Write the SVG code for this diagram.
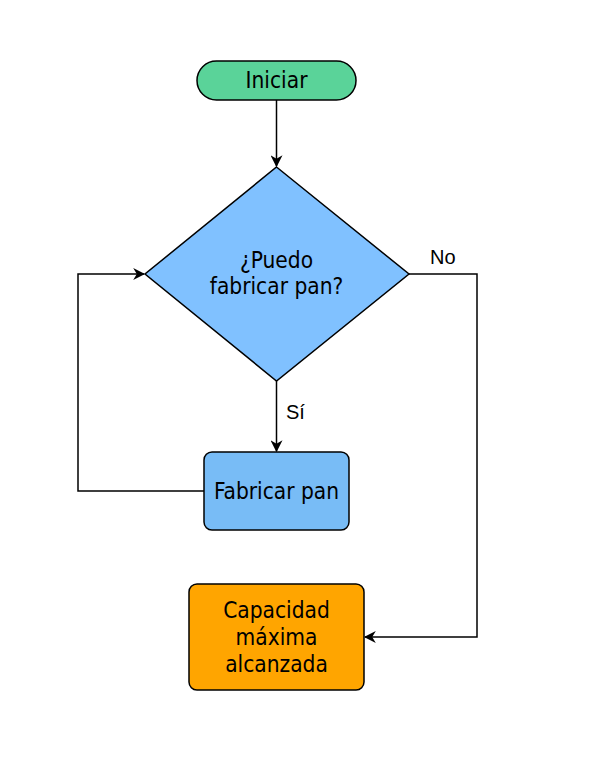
<svg xmlns="http://www.w3.org/2000/svg" width="595" height="776" viewBox="0 0 595 776">
<defs>
<marker id="arr" viewBox="0 0 10 10" refX="9" refY="5" markerWidth="12" markerHeight="12" markerUnits="userSpaceOnUse" orient="auto">
<path d="M0,0 L10,5 L0,10 L3,5 Z" fill="#000"/>
</marker>
<style>
.n{stroke:#000;stroke-width:1.5}
.t{font-family:"DejaVu Sans Condensed","DejaVu Sans",sans-serif;font-size:22.5px;fill:#000;text-anchor:middle}
.l{font-family:"Liberation Sans",Arial,sans-serif;font-size:20px;fill:#000}
.c{fill:none;stroke:#000;stroke-width:1.5}
</style>
</defs>
<rect width="595" height="776" fill="#fff"/>
<g id="connectors">
<path class="c" d="M276.5,100 L276.5,166" marker-end="url(#arr)"/>
<path class="c" d="M276.5,381 L276.5,451" marker-end="url(#arr)"/>
<path class="c" d="M204,491 L78,491 L78,274 L144,274" marker-end="url(#arr)"/>
<path class="c" d="M409,274 L477,274 L477,637 L365,637" marker-end="url(#arr)"/>
<text class="l" x="430" y="264">No</text>
<text class="l" x="286" y="419">Sí</text>
</g>
<g id="start">
<rect class="n" x="197" y="61" width="159" height="39" rx="19.5" fill="#5ad399"/>
<text class="t" x="276.5" y="88">Iniciar</text>
</g>
<g id="decision">
<polygon class="n" points="276.5,167 409,274 276.5,381 145,274" fill="#80c1ff"/>
<text class="t" x="276.5" y="268">¿Puedo</text>
<text class="t" x="276.5" y="294">fabricar pan?</text>
</g>
<g id="fabricar">
<rect class="n" x="204" y="452" width="145" height="78" rx="8" fill="#78bcf6"/>
<text class="t" x="276.5" y="499">Fabricar pan</text>
</g>
<g id="capacidad">
<rect class="n" x="189" y="584" width="175" height="106" rx="8" fill="#ffa500"/>
<text class="t" x="276.5" y="618">Capacidad</text>
<text class="t" x="276.5" y="645">máxima</text>
<text class="t" x="276.5" y="672">alcanzada</text>
</g>
</svg>
